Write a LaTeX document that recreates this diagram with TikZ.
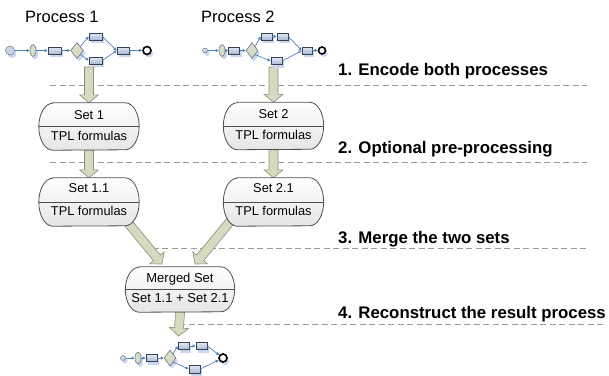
\documentclass[tikz,border=0pt]{standalone}
\usepackage{fontspec}
\setmainfont{Liberation Sans}
\usetikzlibrary{shapes.misc,shapes.geometric,calc,shadows,arrows.meta}
\pgfdeclarelayer{bg}
\pgfsetlayers{bg,main}

\definecolor{arrfill}{RGB}{214,218,192}
\definecolor{arrdraw}{RGB}{140,142,120}
\definecolor{flowblue}{RGB}{79,129,189}
\definecolor{boxfillA}{RGB}{226,232,242}
\definecolor{boxfillB}{RGB}{168,186,212}
\definecolor{boxline}{RGB}{55,65,80}
\definecolor{gwfill}{RGB}{214,220,198}
\definecolor{shadowblue}{RGB}{200,214,240}
\definecolor{dashgray}{RGB}{155,155,155}
\definecolor{setline}{RGB}{80,80,80}

\newcommand\fatarrow[2]{%
  \draw[fatarr] let \p1=(#1), \p2=(#2),
    \n1={atan2(\y2-\y1,\x2-\x1)}, \n2={veclen(\x2-\x1,\y2-\y1)} in
    [shift={(\x1,\y1)}, rotate=\n1]
    (0pt,-4.5pt) -- ({\n2*1pt-8pt},-4.5pt) -- ({\n2*1pt-8pt},-9.5pt)
    -- ({\n2*1pt},0pt) -- ({\n2*1pt-8pt},9.5pt) -- ({\n2*1pt-8pt},4.5pt)
    -- (0pt,4.5pt) -- cycle;}

% outline of a set box: straight top and bottom, half-ellipse ends
\newcommand\setoutline[2]{% #1 node name, #2 half height
  \draw[setshape] ($(#1.north west)+(14pt,0pt)$) -- ($(#1.north east)+(-14pt,0pt)$)
    arc[start angle=90, end angle=-90, x radius=14pt, y radius=#2]
    -- ($(#1.south west)+(14pt,0pt)$)
    arc[start angle=270, end angle=90, x radius=14pt, y radius=#2] -- cycle;
  \draw[setline, line width=0.8pt] (#1.west) -- (#1.east);}

\tikzset{
  shad/.style={general shadow={fill=shadowblue, shadow xshift=2pt, shadow yshift=-3pt}},
  task/.style={rectangle, draw=boxline, line width=0.6pt, top color=boxfillA,
    bottom color=boxfillB, minimum width=12pt, minimum height=7pt, inner sep=0pt, shad},
  gwy/.style={draw=boxline!80, line width=0.5pt, fill=gwfill, inner sep=0pt, shad},
  evstart/.style={circle, draw=boxline!70, line width=0.5pt, fill=boxfillB!60, inner sep=0pt, shad},
  evend/.style={circle, draw=black, line width=1.6pt, fill=white, inner sep=0pt, shad},
  flow/.style={draw=flowblue, line width=0.7pt, -{Latex[length=3pt,width=3.5pt]}},
  fatarr/.style={fill=arrfill, draw=arrdraw, line width=0.6pt},
  setbox/.style={rectangle, minimum width=100pt, minimum height=47pt, inner sep=0pt},
  setshape/.style={draw=setline, line width=0.8pt, top color=white, bottom color=black!10},
  settext/.style={anchor=base, inner sep=0pt, font=\fontsize{12.8}{15}\selectfont},
  steptext/.style={anchor=base west, inner sep=0pt, font=\bfseries\fontsize{16.8}{20}\selectfont},
  proctext/.style={anchor=base west, inner sep=0pt, font=\fontsize{16.5}{19}\selectfont},
  stepline/.style={draw=dashgray, line width=0.8pt, dash pattern=on 6pt off 3.5pt},
}

\begin{document}
\begin{tikzpicture}[x=1pt,y=-1pt]
\useasboundingbox (0,0) rectangle (609,375);

% titles
\node[proctext] (lab1) at (25,22) {Process 1};
\node[proctext] (lab2) at (201,22.5) {Process 2};

% step labels
\node[steptext] (st1) at (338,75) {1. Encode both processes};
\node[steptext] (st2) at (338,153.3) {2. Optional pre-processing};
\node[steptext] (st3) at (338,243.3) {3. Merge the two sets};
\node[steptext] (st4) at (338,318.5) {4. Reconstruct the result process};

% process 1
\node[evstart, minimum size=9pt] (p1s) at (10,50.5) {};
\node[gwy, ellipse, minimum width=6pt, minimum height=12pt] (p1e) at (33,50.5) {};
\node[task, minimum width=13pt] (p1a) at (54.5,50.5) {};
\node[gwy, diamond, minimum width=13pt, minimum height=16pt] (p1d) at (77,50.5) {};
\node[task, minimum width=13pt] (p1t) at (95.5,36.5) {};
\node[task, minimum width=13pt] (p1b) at (95.5,60.5) {};
\node[task, minimum width=12pt] (p1m) at (123,50.5) {};
\node[evend, minimum size=8pt] (p1x) at (147,50.5) {};
\draw[flow] (p1s) -- (p1e);
\draw[flow] (p1e) -- (p1a);
\draw[flow] (p1a) -- (p1d);
\draw[flow] (p1d.north east) -- (p1t.west);
\draw[flow] (p1d.south east) -- (p1b.west);
\draw[flow] (p1t.east) -- (p1m.west);
\draw[flow] (p1b.east) -- (p1m.west);
\draw[flow] (p1m) -- (p1x);

% process 2
\node[evstart, minimum size=5pt] (p2s) at (205,50.5) {};
\node[gwy, ellipse, minimum width=6pt, minimum height=12pt] (p2e) at (222,50.5) {};
\node[task, minimum width=11pt] (p2a) at (234,50.5) {};
\node[gwy, diamond, minimum width=12pt, minimum height=16pt] (p2d) at (252,50.5) {};
\node[task, minimum width=11pt] (p2t) at (266.5,36.5) {};
\node[task, minimum width=11pt] (p2u) at (282.5,36.5) {};
\node[task, minimum width=11pt] (p2b) at (276.5,61) {};
\node[task, minimum width=10pt] (p2m) at (307,50.5) {};
\node[evend, minimum size=7pt] (p2x) at (322,50.5) {};
\draw[flow] (p2s) -- (p2e);
\draw[flow] (p2e) -- (p2a);
\draw[flow] (p2a) -- (p2d);
\draw[flow] (p2d.north east) -- (p2t.west);
\draw[flow] (p2t) -- (p2u);
\draw[flow] (p2d.south east) -- (p2b.west);
\draw[flow] (p2u.east) -- (p2m.west);
\draw[flow] (p2b.east) -- (p2m.west);
\draw[flow] (p2m) -- (p2x);

% result process
\node[evstart, minimum size=5pt] (p3s) at (123,358) {};
\node[gwy, ellipse, minimum width=6pt, minimum height=12pt] (p3e) at (138,358) {};
\node[task, minimum width=11pt] (p3a) at (151.5,358) {};
\node[gwy, diamond, minimum width=12pt, minimum height=16pt] (p3d) at (170,358) {};
\node[task, minimum width=11pt] (p3t) at (183.5,346) {};
\node[task, minimum width=11pt] (p3u) at (201.5,346) {};
\node[task, minimum width=11pt, minimum height=8pt] (p3b) at (194.5,369) {};
\node[evend, minimum size=8pt] (p3x) at (223,358) {};
\draw[flow] (p3s) -- (p3e);
\draw[flow] (p3e) -- (p3a);
\draw[flow] (p3a) -- (p3d);
\draw[flow] (p3d.north east) -- (p3t.west);
\draw[flow] (p3t) -- (p3u);
\draw[flow] (p3d.south east) -- (p3b.west);
\draw[flow] (p3u.east) -- (p3x);
\draw[flow] (p3b.east) -- (p3x);

% sets
\node[setbox] (s1) at (89,126.5) {};
\setoutline{s1}{23.5pt}
\node[settext] (s1a) at (89,119) {Set 1};
\node[settext] (s1b) at (89,140) {TPL formulas};

\node[setbox] (s2) at (273.5,126) {};
\setoutline{s2}{23.5pt}
\node[settext] (s2a) at (273.5,118.5) {Set 2};
\node[settext] (s2b) at (273.5,139.5) {TPL formulas};

\node[setbox, minimum height=48pt] (s11) at (89,202) {};
\setoutline{s11}{24pt}
\node[settext] (s11a) at (89,192.5) {Set 1.1};
\node[settext] (s11b) at (89,215) {TPL formulas};

\node[setbox, minimum height=48pt] (s21) at (273.5,202) {};
\setoutline{s21}{24pt}
\node[settext] (s21a) at (273.5,192.5) {Set 2.1};
\node[settext] (s21b) at (273.5,215) {TPL formulas};

\node[setbox, minimum width=109pt, minimum height=45pt] (mg) at (180,289.5) {};
\setoutline{mg}{22.5pt}
\node[settext, font=\fontsize{13}{15}\selectfont] (mga) at (180,282.5) {Merged Set};
\node[settext, font=\fontsize{13}{15}\selectfont] (mgb) at (180,302) {Set 1.1 + Set 2.1};

% free ends
\coordinate (a1) at (89,67);
\coordinate (a2) at (273.5,67);
\coordinate (a5s) at (124,218);
\coordinate (a5e) at (162,264);
\coordinate (a6s) at (233,218);
\coordinate (a6e) at (195,264);
\coordinate (a7e) at (178.5,336);
\coordinate (d1a) at (50,85.5);   \coordinate (d1b) at (587,85.5);
\coordinate (d2a) at (50,162.5);  \coordinate (d2b) at (587,162.5);
\coordinate (d3a) at (143,248);   \coordinate (d3b) at (587,248);
\coordinate (d4a) at (179,324);   \coordinate (d4b) at (605,324);

\begin{pgfonlayer}{bg}
\draw[stepline] (d1a) -- (d1b);
\draw[stepline] (d2a) -- (d2b);
\draw[stepline] (d3a) -- (d3b);
\draw[stepline] (d4a) -- (d4b);
\fatarrow{a1}{s1.north}
\fatarrow{a2}{s2.north}
\fatarrow{s1.south}{s11.north}
\fatarrow{s2.south}{s21.north}
\fatarrow{a5s}{a5e}
\fatarrow{a6s}{a6e}
\fatarrow{mg.south}{a7e}
\end{pgfonlayer}
\end{tikzpicture}
\end{document}
